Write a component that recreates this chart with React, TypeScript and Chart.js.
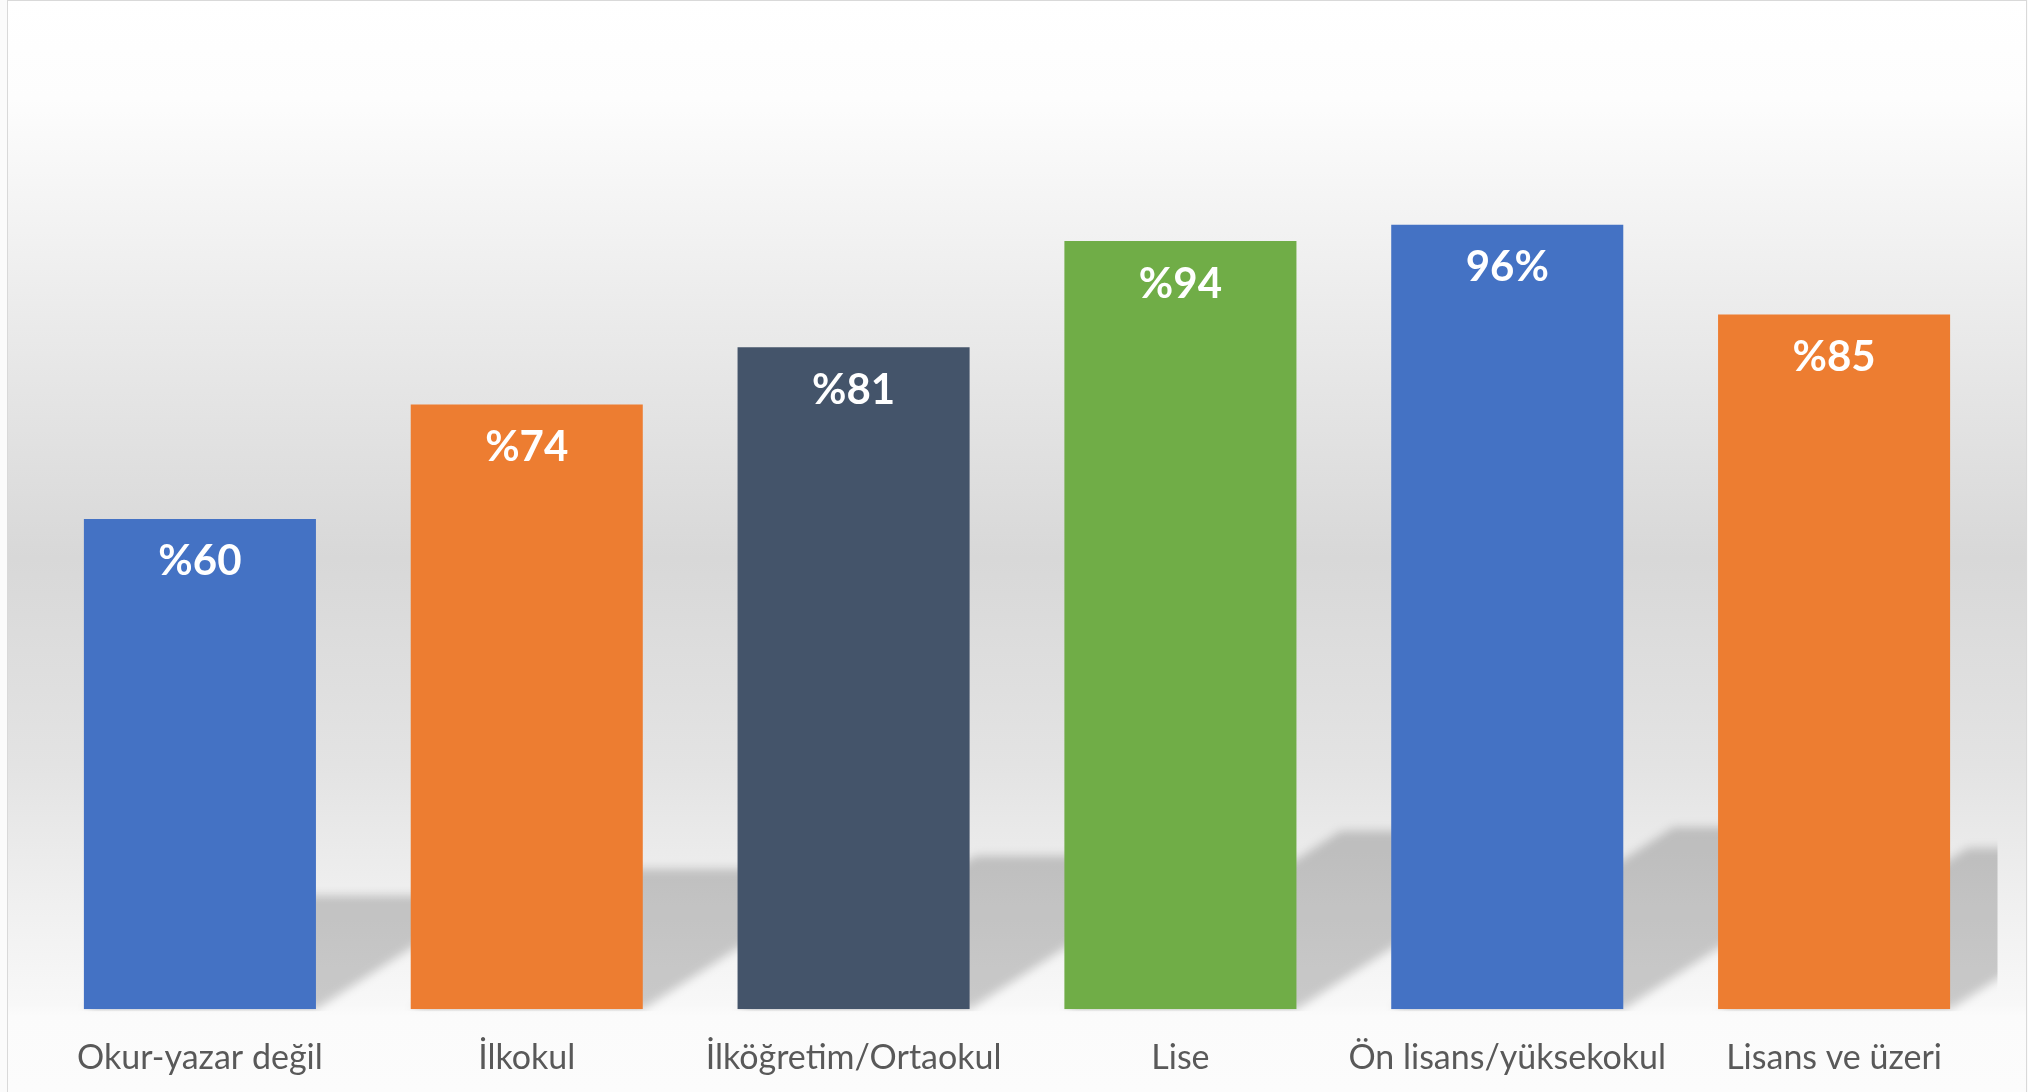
import React, { useEffect, useRef } from "react";
import { Chart, registerables } from "chart.js";

Chart.register(...registerables);

const categories = [
  "Okur-yazar değil",
  "İlkokul",
  "İlköğretim/Ortaokul",
  "Lise",
  "Ön lisans/yüksekokul",
  "Lisans ve üzeri",
];
const values = [60, 74, 81, 94, 96, 85];
const valueLabels = ["%60", "%74", "%81", "%94", "96%", "%85"];
const barColors = ["#4472C4", "#ED7D31", "#44546A", "#70AD47", "#4472C4", "#ED7D31"];

const W = 2028;
const H = 1120;

const backgroundPlugin = {
  id: "bgFrame",
  beforeDraw(chart: any) {
    const ctx = chart.ctx;
    ctx.save();
    const g = ctx.createLinearGradient(0, 0, 0, 1092);
    g.addColorStop(0, "#ffffff");
    g.addColorStop(0.09, "#fdfdfd");
    g.addColorStop(0.3, "#eaeaea");
    g.addColorStop(0.51, "#d8d8d8");
    g.addColorStop(0.7, "#e3e3e3");
    g.addColorStop(0.83, "#f0f0f0");
    g.addColorStop(0.92, "#f8f8f8");
    g.addColorStop(0.93, "#fbfbfb");
    g.addColorStop(1, "#fcfcfc");
    ctx.fillStyle = "#fbfbfb";
    ctx.fillRect(0, 0, W, H);
    ctx.fillStyle = g;
    ctx.fillRect(7, 0, 2019, H);
    ctx.strokeStyle = "#d9d9d9";
    ctx.lineWidth = 1;
    ctx.strokeRect(7.5, 0.5, 2019, H + 10);
    ctx.restore();
  },
};

const shadowPlugin = {
  id: "barShadows",
  beforeDatasetsDraw(chart: any) {
    const ctx = chart.ctx;
    const area = chart.chartArea;
    const meta = chart.getDatasetMeta(0);
    ctx.save();
    ctx.beginPath();
    ctx.rect(area.left, area.top, area.right - area.left, area.bottom - area.top + 2);
    ctx.clip();
    ctx.filter = "blur(5px)";
    ctx.fillStyle = "rgba(0,0,0,0.19)";
    meta.data.forEach((el: any) => {
      const p = el.getProps(["x", "y", "base", "width"], true);
      const left = p.x - p.width / 2;
      const right = p.x + p.width / 2;
      const hs = (p.base - p.y) * 0.232;
      const dx = hs * 1.55;
      ctx.beginPath();
      ctx.moveTo(left, p.base);
      ctx.lineTo(right, p.base);
      ctx.lineTo(right + dx, p.base - hs);
      ctx.lineTo(left + dx, p.base - hs);
      ctx.closePath();
      ctx.fill();
    });
    ctx.restore();
  },
};

const labelPlugin = {
  id: "valueLabels",
  afterDatasetsDraw(chart: any) {
    const ctx = chart.ctx;
    const meta = chart.getDatasetMeta(0);
    ctx.save();
    ctx.fillStyle = "#ffffff";
    ctx.font = "bold 42px Lato";
    ctx.textAlign = "center";
    ctx.textBaseline = "middle";
    meta.data.forEach((el: any, i: number) => {
      const p = el.getProps(["x", "y"], true);
      ctx.fillText(valueLabels[i], p.x, p.y + 43);
    });
    ctx.restore();
  },
};

export default function App() {
  const ref = useRef<HTMLCanvasElement | null>(null);

  useEffect(() => {
    if (!ref.current) return;
    const chart = new Chart(ref.current, {
      type: "bar",
      data: {
        labels: categories,
        datasets: [
          {
            data: values,
            backgroundColor: barColors,
            borderWidth: 0,
            categoryPercentage: 1,
            barPercentage: 0.71,
          },
        ],
      },
      options: {
        animation: false,
        responsive: false,
        devicePixelRatio: 1,
        layout: {
          padding: { top: 192, left: 36.5, right: 30.5, bottom: 14 },
        },
        plugins: {
          legend: { display: false },
          tooltip: { enabled: false },
          title: { display: false },
        },
        scales: {
          x: {
            offset: true,
            grid: { display: false, drawTicks: false },
            border: { display: false },
            ticks: {
              color: "#595959",
              padding: 28,
              maxRotation: 0,
              autoSkip: false,
              font: { family: "Lato", size: 34 },
            },
          },
          y: {
            display: false,
            min: 0,
            max: 100,
          },
        },
      },
      plugins: [backgroundPlugin, shadowPlugin, labelPlugin],
    });
    return () => chart.destroy();
  }, []);

  return (
    <div
      style={{
        position: "fixed",
        left: 0,
        top: 0,
        width: W,
        height: 1092,
        overflow: "hidden",
        background: "#ffffff",
      }}
    >
      <canvas ref={ref} width={W} height={H} style={{ display: "block" }} />
    </div>
  );
}
